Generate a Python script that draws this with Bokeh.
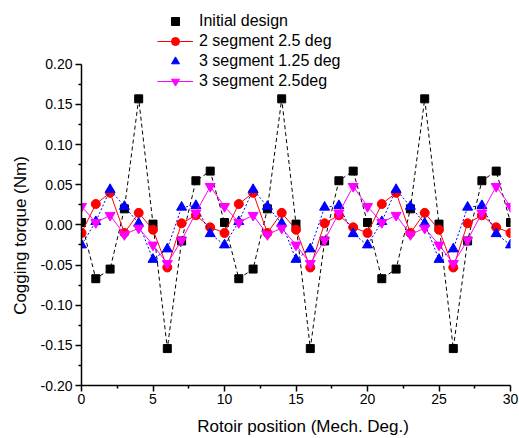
from bokeh.plotting import figure
from bokeh.models import Range1d, FixedTicker, NumeralTickFormatter, Legend, LegendItem
from bokeh.embed import file_html
from bokeh.resources import INLINE

# ---- data ----
position = [0, 1, 2, 3, 4, 5, 6, 7, 8, 9, 10, 11, 12, 13, 14, 15, 16, 17, 18, 19, 20,
            21, 22, 23, 24, 25, 26, 27, 28, 29, 30]

initial_design = [0.003, -0.067, -0.055, 0.020, 0.157, 0.001, -0.154, -0.020, 0.055, 0.067,
                  0.003, -0.067, -0.055, 0.020, 0.157, 0.001, -0.154, -0.020, 0.055, 0.067,
                  0.003, -0.067, -0.055, 0.020, 0.157, 0.001, -0.154, -0.020, 0.055, 0.067,
                  0.003]

seg2_25deg = [-0.010, 0.026, 0.040, -0.010, 0.015, -0.006, -0.053, 0.002, 0.012, -0.003,
              -0.010, 0.026, 0.040, -0.010, 0.015, -0.006, -0.053, 0.002, 0.012, -0.003,
              -0.010, 0.026, 0.040, -0.010, 0.015, -0.006, -0.053, 0.002, 0.012, -0.003,
              -0.010]

seg3_125deg = [-0.025, 0.004, 0.044, 0.023, 0.002, -0.043, -0.030, 0.022, 0.024, -0.011,
               -0.025, 0.004, 0.044, 0.023, 0.002, -0.043, -0.030, 0.022, 0.024, -0.011,
               -0.025, 0.004, 0.044, 0.023, 0.002, -0.043, -0.030, 0.022, 0.024, -0.011,
               -0.025]

seg3_25deg = [0.023, 0.003, 0.012, -0.012, -0.004, -0.025, -0.048, -0.019, 0.015, 0.048,
              0.023, 0.003, 0.012, -0.012, -0.004, -0.025, -0.048, -0.019, 0.015, 0.048,
              0.023, 0.003, 0.012, -0.012, -0.004, -0.025, -0.048, -0.019, 0.015, 0.048,
              0.023]

series_labels = ["Initial design", "2 segment 2.5 deg", "3 segment 1.25 deg", "3 segment 2.5deg"]

x_ticks = [0, 5, 10, 15, 20, 25, 30]
x_minor = [2.5, 7.5, 12.5, 17.5, 22.5, 27.5]
y_ticks = [-0.20, -0.15, -0.10, -0.05, 0.00, 0.05, 0.10, 0.15, 0.20]
y_minor = [-0.175, -0.125, -0.075, -0.025, 0.025, 0.075, 0.125, 0.175]
y_axis_bounds = (-0.20, 0.20)

FONT = "Liberation Sans"

# the frame reaches the top of the figure so the legend (which sits partly above
# the y axis end) is not clipped; the axis itself is bounded to -0.20 .. 0.20
p = figure(width=519, height=438, output_backend="svg", toolbar_location=None,
           x_range=Range1d(0, 30), y_range=Range1d(-0.2, 0.2795),
           min_border_left=81, min_border_right=9, min_border_top=0, min_border_bottom=52)
p.outline_line_color = None
p.grid.visible = False
p.background_fill_color = "white"
p.border_fill_color = "white"

# Initial design
bk_line = p.line(position, initial_design, line_color="black", line_dash="4 3", line_width=1)
bk_pts = p.scatter(position, initial_design, marker="square", size=8,
                   fill_color="black", line_color="black")
# 2 segment 2.5 deg
rd_line = p.line(position, seg2_25deg, line_color="red", line_width=1)
rd_pts = p.scatter(position, seg2_25deg, marker="circle", size=9,
                   fill_color="red", line_color="red")
# 3 segment 1.25 deg
bl_line = p.line(position, seg3_125deg, line_color="blue", line_dash="2 2", line_width=1)
bl_pts = p.scatter(position, seg3_125deg, marker="triangle", size=10,
                   fill_color="blue", line_color="blue")
# 3 segment 2.5deg
mg_line = p.line(position, seg3_25deg, line_color="magenta", line_width=1)
mg_pts = p.scatter(position, seg3_25deg, marker="inverted_triangle", size=10,
                   fill_color="magenta", line_color="magenta")

legend = Legend(items=[
    LegendItem(label=series_labels[0], renderers=[bk_pts]),
    LegendItem(label=series_labels[1], renderers=[rd_line, rd_pts]),
    LegendItem(label=series_labels[2], renderers=[bl_pts]),
    LegendItem(label=series_labels[3], renderers=[mg_line, mg_pts]),
], location=(76, 294), padding=2, spacing=0, margin=0,
    glyph_width=36, glyph_height=20, label_height=20, label_standoff=6,
    label_text_font=FONT, label_text_font_size="16px", label_text_color="black",
    border_line_color=None, background_fill_color="white", background_fill_alpha=1.0)
p.add_layout(legend)

# axes
p.xaxis.ticker = FixedTicker(ticks=x_ticks, minor_ticks=x_minor)
p.yaxis.ticker = FixedTicker(ticks=y_ticks, minor_ticks=y_minor)
p.yaxis.formatter = NumeralTickFormatter(format="0.00")
p.yaxis.bounds = y_axis_bounds

p.xaxis.axis_label = "\u00a0\u00a0\u00a0Rotoir position (Mech. Deg.)"
p.yaxis.axis_label = "Cogging torque (Nm)" + "\u00a0" * 18

for ax in (p.xaxis[0], p.yaxis[0]):
    ax.axis_line_color = "black"
    ax.axis_line_width = 1.5
    ax.major_tick_line_color = "black"
    ax.major_tick_line_width = 1.5
    ax.minor_tick_line_color = "black"
    ax.minor_tick_line_width = 1.5
    ax.major_tick_out = 6
    ax.major_tick_in = 0
    ax.minor_tick_out = 3
    ax.minor_tick_in = 0
    ax.major_label_text_font = FONT
    ax.major_label_text_font_size = "14px"
    ax.major_label_text_color = "black"
    ax.axis_label_text_font = FONT
    ax.axis_label_text_font_size = "17px"
    ax.axis_label_text_font_style = "normal"
    ax.axis_label_text_color = "black"

p.yaxis.major_label_standoff = 3
p.yaxis.axis_label_standoff = 8
p.xaxis.major_label_standoff = 2
p.xaxis.axis_label_standoff = 10

open("out.html", "w").write(file_html(p, INLINE))
